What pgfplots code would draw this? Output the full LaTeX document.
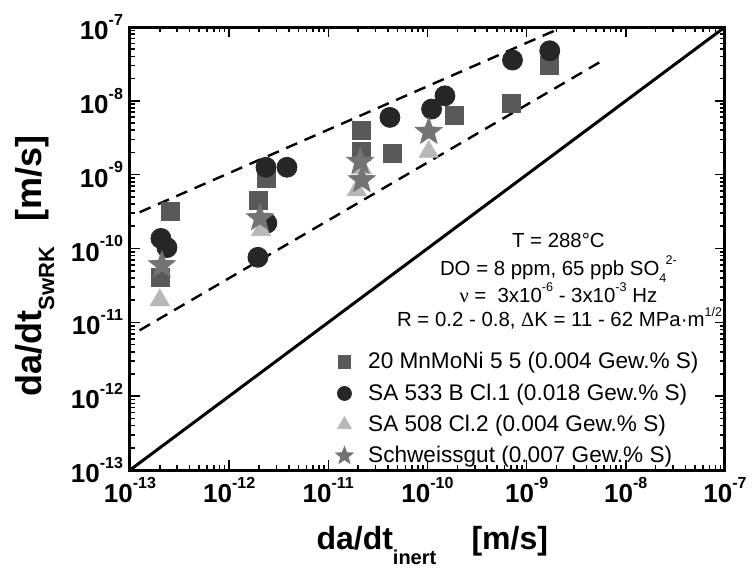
\documentclass[border=0pt]{standalone}
\usepackage{fontspec}
\setmainfont{Liberation Sans}
\newfontfamily\greekfont{Liberation Serif}
\usepackage{pgfplots}
\pgfplotsset{compat=1.18}
\pgfdeclareplotmark{fstar}{%
 \pgfpathmoveto{\pgfpointpolar{90}{\pgfplotmarksize}}%
 \pgfpathlineto{\pgfpointpolar{126}{0.42\pgfplotmarksize}}%
 \pgfpathlineto{\pgfpointpolar{162}{\pgfplotmarksize}}%
 \pgfpathlineto{\pgfpointpolar{198}{0.42\pgfplotmarksize}}%
 \pgfpathlineto{\pgfpointpolar{234}{\pgfplotmarksize}}%
 \pgfpathlineto{\pgfpointpolar{270}{0.42\pgfplotmarksize}}%
 \pgfpathlineto{\pgfpointpolar{306}{\pgfplotmarksize}}%
 \pgfpathlineto{\pgfpointpolar{342}{0.42\pgfplotmarksize}}%
 \pgfpathlineto{\pgfpointpolar{18}{\pgfplotmarksize}}%
 \pgfpathlineto{\pgfpointpolar{54}{0.42\pgfplotmarksize}}%
 \pgfpathclose\pgfusepathqfillstroke}
\newcommand{\tlab}[1]{\textbf{10}\raisebox{0.55em}{\fontsize{8}{8}\selectfont\bfseries #1}}
\newcommand{\ssup}[1]{\raisebox{0.5em}{\fontsize{6.3}{7}\selectfont #1}}
\pgfplotstableread{
x y
2.53e-13 3.18e-10
2.05e-13 4.06e-11
2.35e-12 9.0e-10
1.95e-12 4.53e-10
2.18e-11 3.94e-9
2.18e-11 2.04e-9
4.47e-11 1.94e-9
1.85e-10 6.28e-9
7.1e-10 9.25e-9
1.71e-9 2.99e-8
}\squares
\pgfplotstableread{
x y
2.05e-13 1.37e-10
2.36e-13 1.03e-10
2.35e-12 1.26e-9
3.83e-12 1.26e-9
2.40e-12 2.21e-10
1.95e-12 7.6e-11
4.18e-11 5.97e-9
1.10e-10 7.74e-9
1.50e-10 1.17e-8
7.2e-10 3.57e-8
1.71e-9 4.77e-8
}\circles
\pgfplotstableread{
x y
2.0e-13 2.0e-11
2.1e-12 1.77e-10
2.18e-11 1.22e-9
1.94e-11 6.18e-10
1.03e-10 2.04e-9
}\triangles
\pgfplotstableread{
x y
2.1e-13 5.96e-11
2.04e-12 2.58e-10
2.18e-11 8.45e-10
2.1e-11 1.5e-9
1.03e-10 3.81e-9
}\stars
\begin{document}
\begin{tikzpicture}
\begin{axis}[
  scale only axis, width=297.5pt, height=221.5pt,
  xmode=log, ymode=log,
  xmin=1e-13, xmax=1e-7, ymin=1e-13, ymax=1e-7,
  xtick={1e-13,1e-12,1e-11,1e-10,1e-9,1e-8,1e-7},
  ytick={1e-13,1e-12,1e-11,1e-10,1e-9,1e-8,1e-7},
  xticklabels={\tlab{-13},\tlab{-12},\tlab{-11},\tlab{-10},\tlab{-9},\tlab{-8},\tlab{-7}},
  yticklabels={\tlab{-13},\tlab{-12},\tlab{-11},\tlab{-10},\tlab{-9},\tlab{-8},\tlab{-7}},
  minor xtick={2e-13,3e-13,4e-13,5e-13,6e-13,7e-13,8e-13,9e-13,2e-12,3e-12,4e-12,5e-12,6e-12,7e-12,8e-12,9e-12,2e-11,3e-11,4e-11,5e-11,6e-11,7e-11,8e-11,9e-11,2e-10,3e-10,4e-10,5e-10,6e-10,7e-10,8e-10,9e-10,2e-9,3e-9,4e-9,5e-9,6e-9,7e-9,8e-9,9e-9,2e-8,3e-8,4e-8,5e-8,6e-8,7e-8,8e-8,9e-8},
  minor ytick={2e-13,3e-13,4e-13,5e-13,6e-13,7e-13,8e-13,9e-13,2e-12,3e-12,4e-12,5e-12,6e-12,7e-12,8e-12,9e-12,2e-11,3e-11,4e-11,5e-11,6e-11,7e-11,8e-11,9e-11,2e-10,3e-10,4e-10,5e-10,6e-10,7e-10,8e-10,9e-10,2e-9,3e-9,4e-9,5e-9,6e-9,7e-9,8e-9,9e-9,2e-8,3e-8,4e-8,5e-8,6e-8,7e-8,8e-8,9e-8},
  ticklabel style={font=\fontsize{13}{14}\selectfont\bfseries},
  axis line style={line width=1.5pt},
  every tick/.style={black, line width=0.8pt},
  major tick length=5pt, minor tick length=2.5pt,
  tick align=inside,
  xlabel={\fontsize{16}{16}\selectfont\bfseries da/dt\raisebox{-0.45em}{\fontsize{10}{10}\selectfont\bfseries inert}\hspace{1.1em}[m/s]},
  ylabel={\fontsize{18}{18}\selectfont\bfseries da/dt\raisebox{-0.35em}{\fontsize{11}{11}\selectfont\bfseries SwRK}\hspace{0.7em}[m/s]},
  xlabel style={at={(axis description cs:0.508,-0.17)}, anchor=center},
  ylabel style={at={(axis description cs:-0.16,0.46)}, anchor=center},
  legend style={draw=none, fill=none, font=\fontsize{11.3}{12}\selectfont,
    at={(rel axis cs:0.335,0.284)}, anchor=north west, row sep=1.9pt,
    /tikz/every odd column/.append style={column sep=5.5pt}},
  legend cell align=left,
]
\addplot[dashed, line width=1.2pt, dash pattern=on 6pt off 4pt, forget plot] coordinates {(1.25e-13,3.1e-10)(2.05e-9,9.3e-8)};
\addplot[dashed, line width=1.2pt, dash pattern=on 6pt off 4pt, forget plot] coordinates {(1.25e-13,7.8e-12)(5.5e-9,3.36e-8)};
\addplot[line width=1.5pt, forget plot] coordinates {(1e-13,1e-13)(1e-7,1e-7)};
\addplot[only marks, mark=square*, mark size=4.5pt, mark options={fill=black!65, draw=black!65}, legend image post style={mark size=3.2pt}] table {\squares};
\addlegendentry{20 MnMoNi 5 5 (0.004 Gew.\% S)}
\addplot[only marks, mark=*, mark size=5pt, mark options={fill=black!85, draw=black!85}, legend image post style={mark size=3.5pt}] table {\circles};
\addlegendentry{SA 533 B Cl.1 (0.018 Gew.\% S)}
\addplot[only marks, mark=triangle*, mark size=5.5pt, mark options={fill=black!28, draw=black!28}, legend image post style={mark size=4pt}] table {\triangles};
\addlegendentry{SA 508 Cl.2 (0.004 Gew.\% S)}
\addplot[only marks, mark=fstar, mark size=7pt, mark options={fill=black!55, draw=black!55, line width=0.4pt}, legend image post style={mark size=4.6pt}] table {\stars};
\addlegendentry{Schweissgut (0.007 Gew.\% S)}
\node[anchor=base, font=\fontsize{10.2}{12}\selectfont] at (rel axis cs:0.72,0.503) {T = 288°C};
\node[anchor=base, font=\fontsize{10.2}{12}\selectfont] at (rel axis cs:0.72,0.440) {DO = 8 ppm, 65 ppb SO\rlap{\raisebox{-0.35em}{\fontsize{6.3}{7}\selectfont 4}}\raisebox{0.5em}{\hspace{0.3em}\fontsize{6.3}{7}\selectfont 2-}};
\node[anchor=base, font=\fontsize{10.2}{12}\selectfont] at (rel axis cs:0.72,0.379) {{\greekfont ν} =\ \ 3x10\ssup{-6} - 3x10\ssup{-3} Hz};
\node[anchor=base, font=\fontsize{10.2}{12}\selectfont] at (rel axis cs:0.722,0.323) {R = 0.2 - 0.8, {\greekfont Δ}K = 11 - 62 MPa·m\ssup{1/2}};
\end{axis}
\pgfresetboundingbox
\useasboundingbox (-65pt,-50pt) rectangle (313pt,235pt);
\end{tikzpicture}
\end{document}
